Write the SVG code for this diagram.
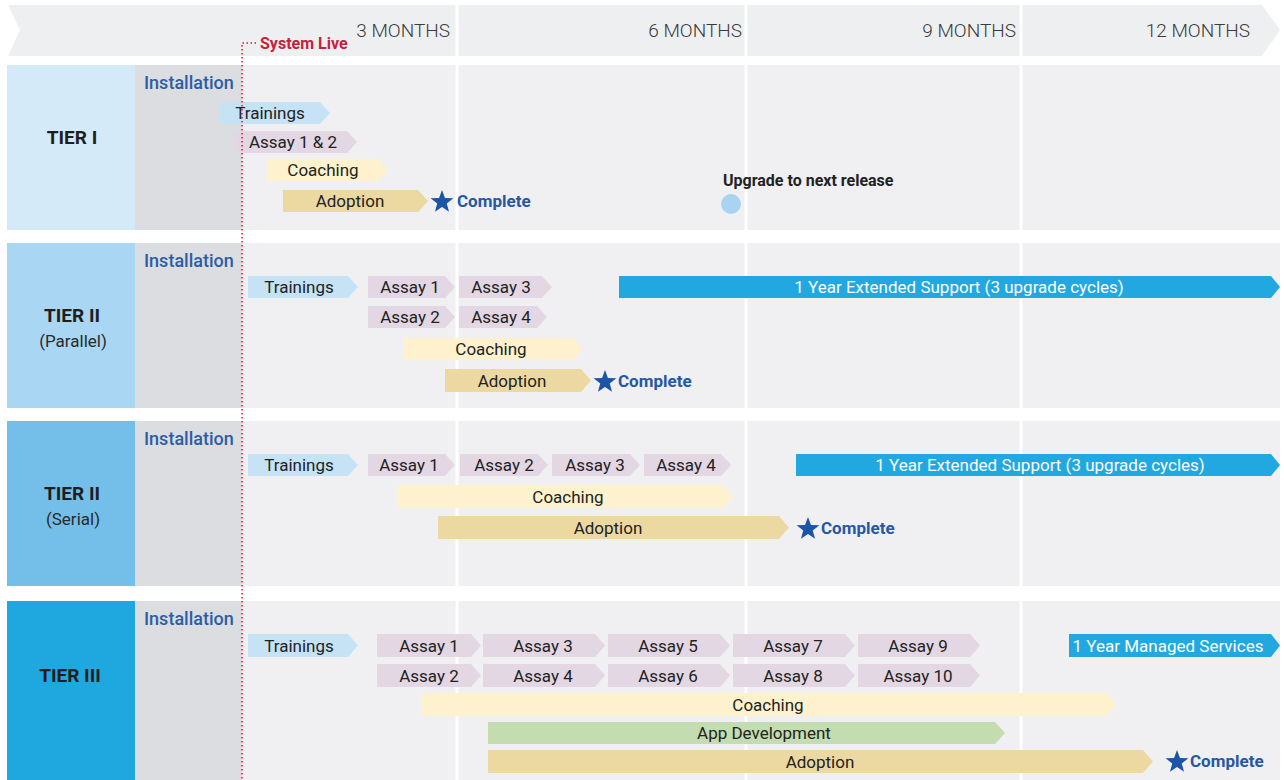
<svg xmlns="http://www.w3.org/2000/svg" width="1284" height="780" viewBox="0 0 1284 780">
<style>
text{font-family:Roboto,"Liberation Sans",Arial,sans-serif}
.month{font-size:19px;font-weight:300;fill:#3a3a3a;text-anchor:end}
.tier{font-size:19px;font-weight:700;fill:#1e1e1e;text-anchor:middle}
.sub{font-size:17px;fill:#2a2a2a;text-anchor:middle}
.inst{font-size:18px;font-weight:500;fill:#2b5da6}
.bt{font-size:17px;fill:#222;text-anchor:middle}
.wt{font-size:17px;fill:#fff;text-anchor:middle}
.done{font-size:17px;font-weight:700;fill:#2657a4}
.cell{fill:#f0f0f2}
.instcol{fill:#dcdde0}
.grid{stroke:#fff;stroke-width:3}
.tr{fill:#c6e3f6}.as{fill:#e2d7e3}.co{fill:#fdf2cd}.ad{fill:#ecd9a1}.ap{fill:#c3dcb0}.su{fill:#21a8e0}
.star{fill:#1d55a6}
</style>
<defs>
<path id="star" d="M0,-12 L2.94,-4.05 L11.41,-3.71 L4.76,1.55 L7.05,9.71 L0,5 L-7.05,9.71 L-4.76,1.55 L-11.41,-3.71 L-2.94,-4.05 Z"/>
</defs>
<rect width="1284" height="780" fill="#fff"/>

<g id="header">
<path d="M8,5 H1262 L1280,30 L1262,56 H8 L20,30 Z" fill="#eeeff1"/>
<line class="grid" x1="457" y1="0" x2="457" y2="60"/>
<line class="grid" x1="746" y1="0" x2="746" y2="60"/>
<line class="grid" x1="1021" y1="0" x2="1021" y2="60"/>
<text class="month" x="450" y="37">3 MONTHS</text>
<text class="month" x="742" y="37">6 MONTHS</text>
<text class="month" x="1016" y="37">9 MONTHS</text>
<text class="month" x="1250" y="37">12 MONTHS</text>
</g>

<g id="tier1">
<rect x="7" y="65" width="128" height="165" fill="#d5eaf8"/>
<rect class="instcol" x="135" y="65" width="107" height="165"/>
<rect class="cell" x="242" y="65" width="1038" height="165"/>
<line class="grid" x1="457" y1="65" x2="457" y2="230"/>
<line class="grid" x1="746" y1="65" x2="746" y2="230"/>
<line class="grid" x1="1021" y1="65" x2="1021" y2="230"/>
<text class="tier" x="72" y="144">TIER I</text>
<text class="inst" x="144" y="89">Installation</text>
<g id="t1-trainings"><path class="tr" d="M219,102 H320 L330,113 L320,124 H219 Z"/><text class="bt" x="270" y="119">Trainings</text></g>
<g id="t1-assay12"><path class="as" d="M234,131 H347 L357,142 L347,153 H234 Z"/><text class="bt" x="293" y="148">Assay 1 &amp; 2</text></g>
<g id="t1-coaching"><path class="co" d="M268,159 H378 L388,170 L378,181 H268 Z"/><text class="bt" x="323" y="176">Coaching</text></g>
<g id="t1-adoption"><path class="ad" d="M283,190 H418 L428,201 L418,212 H283 Z"/><text class="bt" x="350" y="207">Adoption</text></g>
<g id="t1-complete"><use href="#star" class="star" x="442" y="202"/><text class="done" x="457" y="207">Complete</text></g>
<g id="t1-upgrade"><text x="723" y="186" style="font-size:16px;font-weight:700;fill:#222">Upgrade to next release</text><circle cx="731" cy="204" r="10" fill="#a9d4f1"/></g>
</g>

<g id="tier2p">
<rect x="7" y="243" width="128" height="165" fill="#a9d6f2"/>
<rect class="instcol" x="135" y="243" width="107" height="165"/>
<rect class="cell" x="242" y="243" width="1038" height="165"/>
<line class="grid" x1="457" y1="243" x2="457" y2="408"/>
<line class="grid" x1="746" y1="243" x2="746" y2="408"/>
<line class="grid" x1="1021" y1="243" x2="1021" y2="408"/>
<text class="tier" x="72" y="322">TIER II</text>
<text class="sub" x="73" y="347">(Parallel)</text>
<text class="inst" x="144" y="267">Installation</text>
<g id="t2p-trainings"><path class="tr" d="M248,276 H348 L358,287 L348,298 H248 Z"/><text class="bt" x="299" y="293">Trainings</text></g>
<g id="t2p-assay1"><path class="as" d="M368,276 H445 L455,287 L445,298 H368 Z"/><text class="bt" x="410" y="293">Assay 1</text></g>
<g id="t2p-assay2"><path class="as" d="M368,306 H445 L455,317 L445,328 H368 Z"/><text class="bt" x="410" y="323">Assay 2</text></g>
<g id="t2p-assay3"><path class="as" d="M459,276 H542 L552,287 L542,298 H459 Z"/><text class="bt" x="501" y="293">Assay 3</text></g>
<g id="t2p-assay4"><path class="as" d="M459,306 H537 L547,317 L537,328 H459 Z"/><text class="bt" x="501" y="323">Assay 4</text></g>
<g id="t2p-coaching"><path class="co" d="M404,338 H573 L583,349 L573,360 H404 Z"/><text class="bt" x="491" y="355">Coaching</text></g>
<g id="t2p-adoption"><path class="ad" d="M445,369 H581 L591,380.5 L581,392 H445 Z"/><text class="bt" x="512" y="386.5">Adoption</text></g>
<g id="t2p-complete"><use href="#star" class="star" x="605" y="382"/><text class="done" x="618" y="386.5">Complete</text></g>
<g id="t2p-support"><path class="su" d="M619,276 H1271 L1280,287 L1271,298 H619 Z"/><text class="wt" x="959" y="293">1 Year Extended Support (3 upgrade cycles)</text></g>
</g>

<g id="tier2s">
<rect x="7" y="421" width="128" height="165" fill="#74bfea"/>
<rect class="instcol" x="135" y="421" width="107" height="165"/>
<rect class="cell" x="242" y="421" width="1038" height="165"/>
<line class="grid" x1="457" y1="421" x2="457" y2="586"/>
<line class="grid" x1="746" y1="421" x2="746" y2="586"/>
<line class="grid" x1="1021" y1="421" x2="1021" y2="586"/>
<text class="tier" x="72" y="500">TIER II</text>
<text class="sub" x="73" y="525">(Serial)</text>
<text class="inst" x="144" y="445">Installation</text>
<g id="t2s-trainings"><path class="tr" d="M248,454 H348 L358,465 L348,476 H248 Z"/><text class="bt" x="299" y="471">Trainings</text></g>
<g id="t2s-assay1"><path class="as" d="M368,454 H445 L455,465 L445,476 H368 Z"/><text class="bt" x="409" y="471">Assay 1</text></g>
<g id="t2s-assay2"><path class="as" d="M460,454 H538 L548,465 L538,476 H460 Z"/><text class="bt" x="504" y="471">Assay 2</text></g>
<g id="t2s-assay3"><path class="as" d="M552,454 H630 L640,465 L630,476 H552 Z"/><text class="bt" x="595" y="471">Assay 3</text></g>
<g id="t2s-assay4"><path class="as" d="M644,454 H721 L731,465 L721,476 H644 Z"/><text class="bt" x="686" y="471">Assay 4</text></g>
<g id="t2s-coaching"><path class="co" d="M397,485 H723 L733,496.5 L723,508 H397 Z"/><text class="bt" x="568" y="502.5">Coaching</text></g>
<g id="t2s-adoption"><path class="ad" d="M438,516 H779 L789,527.5 L779,539 H438 Z"/><text class="bt" x="608" y="533.5">Adoption</text></g>
<g id="t2s-complete"><use href="#star" class="star" x="808" y="529"/><text class="done" x="821" y="533.5">Complete</text></g>
<g id="t2s-support"><path class="su" d="M796,454 H1271 L1280,465 L1271,476 H796 Z"/><text class="wt" x="1040" y="471">1 Year Extended Support (3 upgrade cycles)</text></g>
</g>

<g id="tier3">
<rect x="7" y="601" width="128" height="179" fill="#1fa8e0"/>
<rect class="instcol" x="135" y="601" width="107" height="179"/>
<rect class="cell" x="242" y="601" width="1038" height="179"/>
<line class="grid" x1="457" y1="601" x2="457" y2="780"/>
<line class="grid" x1="746" y1="601" x2="746" y2="780"/>
<line class="grid" x1="1021" y1="601" x2="1021" y2="780"/>
<text class="tier" x="70" y="682">TIER III</text>
<text class="inst" x="144" y="625">Installation</text>
<g id="t3-trainings"><path class="tr" d="M248,634 H348 L358,645.5 L348,657 H248 Z"/><text class="bt" x="299" y="651.5">Trainings</text></g>
<g id="t3-assay1"><path class="as" d="M377,634 H471 L481,645.5 L471,657 H377 Z"/><text class="bt" x="429" y="651.5">Assay 1</text></g>
<g id="t3-assay2"><path class="as" d="M377,664 H471 L481,675.5 L471,687 H377 Z"/><text class="bt" x="429" y="681.5">Assay 2</text></g>
<g id="t3-assay3"><path class="as" d="M483,634 H595 L605,645.5 L595,657 H483 Z"/><text class="bt" x="543" y="651.5">Assay 3</text></g>
<g id="t3-assay4"><path class="as" d="M483,664 H595 L605,675.5 L595,687 H483 Z"/><text class="bt" x="543" y="681.5">Assay 4</text></g>
<g id="t3-assay5"><path class="as" d="M608,634 H720 L730,645.5 L720,657 H608 Z"/><text class="bt" x="668" y="651.5">Assay 5</text></g>
<g id="t3-assay6"><path class="as" d="M608,664 H720 L730,675.5 L720,687 H608 Z"/><text class="bt" x="668" y="681.5">Assay 6</text></g>
<g id="t3-assay7"><path class="as" d="M733,634 H845 L855,645.5 L845,657 H733 Z"/><text class="bt" x="793" y="651.5">Assay 7</text></g>
<g id="t3-assay8"><path class="as" d="M733,664 H845 L855,675.5 L845,687 H733 Z"/><text class="bt" x="793" y="681.5">Assay 8</text></g>
<g id="t3-assay9"><path class="as" d="M858,634 H970 L980,645.5 L970,657 H858 Z"/><text class="bt" x="918" y="651.5">Assay 9</text></g>
<g id="t3-assay10"><path class="as" d="M858,664 H970 L980,675.5 L970,687 H858 Z"/><text class="bt" x="918" y="681.5">Assay 10</text></g>
<g id="t3-managed"><path class="su" d="M1069,634 H1271 L1280,645.5 L1271,657 H1069 Z"/><text class="wt" x="1168" y="651.5">1 Year Managed Services</text></g>
<g id="t3-coaching"><path class="co" d="M422,693 H1106 L1116,704.5 L1106,716 H422 Z"/><text class="bt" x="768" y="710.5">Coaching</text></g>
<g id="t3-appdev"><path class="ap" d="M488,722 H995 L1005,733 L995,744 H488 Z"/><text class="bt" x="764" y="739">App Development</text></g>
<g id="t3-adoption"><path class="ad" d="M488,750 H1143 L1153,761.5 L1143,773 H488 Z"/><text class="bt" x="820" y="767.5">Adoption</text></g>
<g id="t3-complete"><use href="#star" class="star" x="1177" y="762"/><text class="done" x="1190" y="766.5">Complete</text></g>
</g>

<g id="connectors">
<path d="M256,43 H242 V780" fill="none" stroke="#c8203c" stroke-width="1.5" stroke-dasharray="1.5 2.5"/>
<text x="260" y="49" style="font-size:16px;font-weight:700;fill:#c8203c">System Live</text>
</g>
</svg>
